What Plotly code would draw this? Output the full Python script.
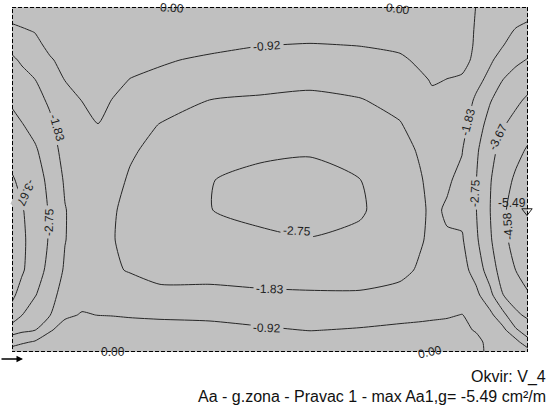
import numpy as np
import plotly.graph_objects as go

# ---------------- data ----------------
# plate grid nodes (cm from the top-left corner of the plate)
x_nodes = [0, 10, 23, 38, 53, 70, 86, 100, 118, 148, 198, 248, 298, 348,
           388, 408, 420, 435, 450, 464, 478, 491, 504, 516]
y_nodes = [0, 13, 25, 38, 53, 73, 93, 118, 143, 173, 203, 233, 263, 288,
           308, 323, 335, 345]

# Aa1,g values [cm2/m], one list per grid column (top -> bottom)
aa_columns = [
    [-0.30, -0.80, -1.20, -1.61, -1.96, -2.30, -2.63, -3.00, -3.36, -3.75, -3.95, -4.00, -3.95, -3.85, -3.30, -2.29, -1.19, -0.60],
    [-0.10, -0.70, -1.06, -1.38, -1.73, -2.08, -2.40, -2.79, -3.11, -3.47, -3.72, -3.80, -3.78, -3.31, -2.76, -2.02, -1.06, -0.30],
    [0.00, -0.47, -0.90, -1.16, -1.46, -1.85, -2.13, -2.49, -2.85, -3.10, -3.30, -3.33, -3.15, -2.80, -2.28, -1.86, -0.83, 0.00],
    [0.00, -0.25, -0.44, -0.69, -1.01, -1.36, -1.69, -2.00, -2.30, -2.55, -2.65, -2.65, -2.50, -2.20, -1.86, -1.00, -0.50, 0.00],
    [0.00, -0.16, -0.31, -0.47, -0.66, -0.91, -1.07, -1.27, -1.47, -1.72, -1.87, -1.86, -1.72, -1.40, -1.05, -0.60, -0.30, 0.00],
    [0.00, -0.13, -0.25, -0.37, -0.52, -0.71, -0.91, -1.07, -1.22, -1.36, -1.45, -1.45, -1.38, -1.17, -0.87, -0.50, -0.25, 0.00],
    [0.00, -0.10, -0.20, -0.30, -0.42, -0.58, -0.74, -0.93, -1.20, -1.45, -1.60, -1.60, -1.50, -1.25, -0.93, -0.50, -0.25, 0.00],
    [0.00, -0.13, -0.25, -0.38, -0.52, -0.72, -0.93, -1.12, -1.30, -1.50, -1.75, -1.80, -1.75, -1.40, -0.95, -0.50, -0.25, 0.00],
    [0.00, -0.17, -0.32, -0.49, -0.69, -0.94, -1.15, -1.45, -1.70, -1.95, -2.05, -2.00, -1.88, -1.50, -1.00, -0.55, -0.28, 0.00],
    [0.00, -0.21, -0.40, -0.60, -0.84, -1.08, -1.42, -1.87, -2.15, -2.35, -2.45, -2.40, -2.15, -1.60, -1.05, -0.60, -0.30, 0.00],
    [0.00, -0.25, -0.49, -0.74, -1.04, -1.44, -1.84, -2.20, -2.45, -2.73, -2.74, -2.58, -2.15, -1.60, -1.10, -0.65, -0.33, 0.00],
    [0.00, -0.31, -0.59, -0.90, -1.17, -1.58, -1.92, -2.30, -2.62, -2.92, -2.92, -2.62, -2.20, -1.70, -1.25, -0.80, -0.42, 0.00],
    [0.00, -0.33, -0.64, -0.96, -1.25, -1.66, -2.00, -2.38, -2.68, -2.98, -3.02, -2.72, -2.20, -1.75, -1.32, -0.95, -0.48, 0.00],
    [0.00, -0.31, -0.59, -0.90, -1.15, -1.55, -1.87, -2.20, -2.50, -2.76, -2.84, -2.58, -2.20, -1.75, -1.30, -0.85, -0.45, 0.00],
    [0.00, -0.26, -0.50, -0.76, -1.05, -1.35, -1.62, -1.88, -2.10, -2.25, -2.30, -2.22, -2.02, -1.62, -1.15, -0.75, -0.38, 0.00],
    [-0.10, -0.27, -0.42, -0.59, -0.78, -1.05, -1.30, -1.55, -1.75, -1.90, -1.95, -1.90, -1.75, -1.48, -1.10, -0.70, -0.35, 0.00],
    [-0.20, -0.32, -0.43, -0.55, -0.69, -0.87, -1.05, -1.25, -1.45, -1.62, -1.72, -1.70, -1.55, -1.35, -1.05, -0.68, -0.35, -0.05],
    [-0.35, -0.45, -0.55, -0.65, -0.77, -0.93, -1.15, -1.38, -1.58, -1.75, -1.90, -1.78, -1.60, -1.38, -1.00, -0.65, -0.40, -0.20],
    [-0.60, -0.66, -0.72, -0.78, -0.85, -0.95, -1.25, -1.55, -1.80, -2.00, -2.05, -1.75, -1.50, -1.20, -0.90, -0.75, -0.60, -0.40],
    [-0.93, -0.95, -0.96, -0.96, -0.97, -1.55, -1.98, -2.30, -2.60, -2.72, -2.72, -2.60, -2.20, -1.60, -1.25, -0.98, -0.70, -0.75],
    [-1.15, -1.25, -1.37, -1.52, -1.70, -2.10, -2.68, -3.10, -3.40, -3.60, -3.65, -3.55, -3.20, -2.50, -1.60, -1.30, -1.15, -1.05],
    [-1.30, -1.45, -1.62, -1.80, -2.20, -2.76, -3.20, -3.60, -3.95, -4.25, -4.45, -4.40, -4.10, -3.65, -2.50, -1.60, -1.30, -1.15],
    [-1.45, -1.68, -1.92, -2.25, -2.58, -3.10, -3.50, -3.95, -4.35, -4.72, -4.95, -4.85, -4.60, -4.10, -3.50, -2.65, -1.55, -1.30],
    [-1.60, -1.80, -2.10, -2.43, -2.80, -3.33, -3.80, -4.25, -4.67, -5.06, -5.49, -5.18, -4.84, -4.53, -3.84, -3.21, -2.49, -1.40],
]

contour_levels = [-0.92, -1.83, -2.75, -3.67, -4.58]
frame_name = "V_4"
result_name = "Aa - g.zona - Pravac 1 - max Aa1,g="
unit = "cm²/m"

# ---------------- figure ----------------
Z = np.array(aa_columns).T
W, H = 558, 410
L, R, T, B = 12, 30, 7, 58
plate_w, plate_h = x_nodes[-1], y_nodes[-1]
pw, ph = W - L - R, H - T - B

min_val = float(Z.min())
iy, ix = np.unravel_index(np.argmin(Z), Z.shape)

fig = go.Figure()
fig.add_trace(go.Contour(
    x=x_nodes, y=y_nodes, z=Z,
    contours=dict(start=contour_levels[-1], end=contour_levels[0],
                  size=(contour_levels[0] - contour_levels[-1]) / (len(contour_levels) - 1),
                  coloring="none", showlabels=False),
    line=dict(color="#262626", width=1, smoothing=0.6),
    showscale=False, hoverinfo="skip",
))

# location of the maximum |value| (marker on the edge)
fig.add_trace(go.Scatter(
    x=[x_nodes[ix] - 1], y=[y_nodes[iy] + 1], mode="markers",
    marker=dict(symbol="triangle-down-open", size=9, color="#202020", line=dict(width=1)),
    hoverinfo="skip", showlegend=False, cliponaxis=False,
))

lab_font = dict(family="Liberation Sans, Arial, sans-serif", size=12, color="#1e1e1e")
annots = []

def lab(text, px, py, angle, mask=True):
    annots.append(dict(
        x=px - L, y=py - T, xref="x", yref="y", text=text, showarrow=False,
        textangle=angle, font=lab_font, xanchor="center", yanchor="middle",
        bgcolor="#c0c0c0" if mask else None, borderpad=2,
    ))

zero = "%.2f" % 0.0
lab(zero, 172, 8, 4, False)
lab(zero, 398, 9, 8, False)
lab(zero, 113, 352, 0, False)
lab(zero, 430, 352, -12, False)
f = lambda v: "%.2f" % v
lab(f(contour_levels[0]), 267, 46, -4)
lab(f(contour_levels[0]), 267, 328, 2)
lab(f(contour_levels[1]), 270, 289, 2)
lab(f(contour_levels[2]), 297, 231, 3)
lab(f(contour_levels[1]), 57, 128, 74)
lab(f(contour_levels[2]), 49, 222, -88)
lab(f(contour_levels[3]), 26, 193, 115)
lab(f(contour_levels[1]), 468, 122, -75)
lab(f(contour_levels[3]), 498, 137, -63)
lab(f(contour_levels[2]), 475, 193, -87)
lab(f(contour_levels[4]), 508, 226, -95)
lab(f(min_val), 512, 203, 0, False)

# axis arrow bottom-left (paper coords so it is not hidden outside the axes)
annots.append(dict(x=(23 - L) / pw, y=(352 - 359) / ph, xref="paper", yref="paper",
                   text="", showarrow=True, ax=-23, ay=0, arrowhead=2, arrowsize=1,
                   arrowwidth=1.3, arrowcolor="black"))

txt_font = dict(family="Liberation Sans, Arial, sans-serif", size=16, color="#111111")
annots.append(dict(x=(548 - L) / pw, y=(352 - 377) / ph, xref="paper", yref="paper",
                   text="Okvir: " + frame_name, showarrow=False, xanchor="right",
                   yanchor="middle", font=txt_font))
annots.append(dict(x=(548 - L) / pw, y=(352 - 396) / ph, xref="paper", yref="paper",
                   text="%s %.2f %s" % (result_name, min_val, unit), showarrow=False,
                   xanchor="right", yanchor="middle", font=txt_font))

fig.update_layout(
    width=W, height=H, autosize=False,
    margin=dict(l=L, r=R, t=T, b=B, pad=0),
    paper_bgcolor="white", plot_bgcolor="#c0c0c0",
    xaxis=dict(range=[0, plate_w], visible=False, showgrid=False, zeroline=False, fixedrange=True),
    yaxis=dict(range=[plate_h, 0], visible=False, showgrid=False, zeroline=False, fixedrange=True),
    showlegend=False,
    annotations=annots,
    shapes=[dict(type="rect", xref="x", yref="y", x0=0, y0=0, x1=plate_w, y1=plate_h,
                 line=dict(color="black", width=2, dash="4px,2px"), layer="above")],
)

fig.write_html("out.html", config={"displayModeBar": False, "staticPlot": True},
               post_script="document.body.style.margin='0';document.body.style.overflow='hidden';")
